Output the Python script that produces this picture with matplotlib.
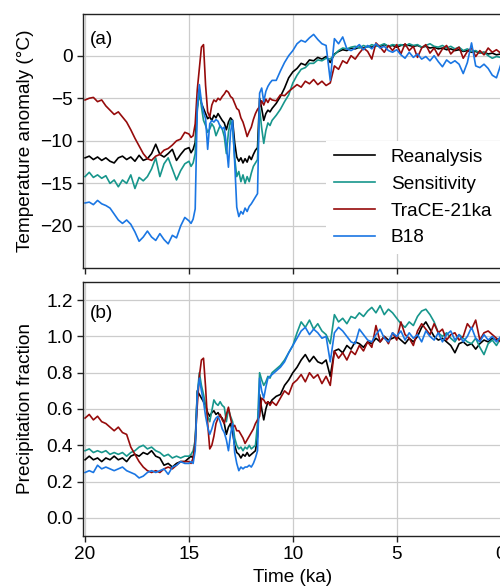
"""Temperatuur- en neerslagreconstructie, twee panelen (a) en (b)."""
# ================================================
# IMPORTS
# ================================================
import numpy as np
import matplotlib
matplotlib.use("Agg")
import matplotlib.pyplot as plt

# ================================================
# DATA
# ================================================
# tijd in ka: 20.0-15.2 stap 0.2, 15.0-11.0 stap 0.1, 10.8-0.0 stap 0.2
tijd = np.concatenate([np.linspace(20.0, 15.2, 25),
                       np.linspace(15.0, 11.0, 41),
                       np.linspace(10.8, 0.0, 55)])

labels = ["Reanalysis", "Sensitivity", "TraCE-21ka", "B18"]
kleuren = ["#000000", "#17968c", "#960b0b", "#1a76e3"]

temp_reanalysis = [
    -12.0, -11.8, -12.2, -11.9, -12.3,
    -12.0, -12.4, -12.6, -12.0, -11.8,
    -12.2, -11.9, -12.4, -11.7, -12.3,
    -12.1, -11.5, -10.4, -11.6, -11.9,
    -11.5, -11.0, -12.3, -11.6, -11.0,
    -10.8, -11.4, -11.0, -10.2, -6.0, -4.4, -5.6, -6.2, -6.8, -7.4,
    -7.2, -7.6, -7.0, -7.3, -6.8, -7.2, -7.6, -7.9, -8.7, -7.8,
    -7.3, -7.6, -10.2, -11.9, -12.4, -12.0, -12.6, -12.1, -12.5, -11.8,
    -12.2, -11.6, -11.1, -10.8, -5.0, -6.2, -7.6, -6.8, -6.4, -6.6,
    -6.2,
    -5.6, -4.8, -3.8, -2.6,
    -1.9, -1.5, -0.9, -1.1, -0.5,
    -0.6, -0.2, -0.4, -0.1, -0.8,
    0.2, 0.5, 0.7, 0.6, 0.9,
    0.8, 1.0, 0.9, 1.1, 1.0,
    1.2, 1.1, 1.3, 1.1, 1.2,
    1.0, 1.2, 1.3, 1.2, 1.1,
    1.2, 1.0, 1.1, 0.9, 1.0,
    0.8, 0.9, 0.7, 0.8, 0.6,
    0.7, 0.5, 0.6, 0.4, 0.5,
    0.3, 0.4, 0.2, 0.3, 0.1,
    0.2,
]

temp_sensitivity = [
    -14.2, -13.7, -14.3, -14.0, -14.4,
    -14.1, -15.0, -14.6, -15.4, -14.6,
    -15.0, -14.0, -15.6, -14.3, -14.7,
    -14.2, -13.3, -12.0, -14.2, -12.7,
    -12.0, -13.3, -14.6, -13.5, -12.7,
    -12.4, -13.0, -12.6, -11.5, -6.5, -4.0, -6.0, -7.6, -8.2, -9.0,
    -8.6, -8.0, -8.4, -9.4, -8.8, -8.2, -8.6, -9.5, -11.5, -9.0,
    -7.6, -8.5, -12.0, -14.2, -13.6, -14.8, -14.0, -15.0, -14.2, -14.8,
    -13.8, -13.0, -12.6, -12.2, -6.2, -8.5, -10.3, -8.8, -7.9, -8.2,
    -7.6,
    -7.0, -6.3, -5.4, -4.6,
    -3.2, -2.3, -1.6, -1.4, -0.9,
    -0.9, -0.5, -0.6, -0.3, -0.4,
    0.1, 0.6, 0.9, 0.8, 1.0,
    1.1, 0.9, 1.2, 1.0, 1.3,
    1.1, 1.2, 1.4, 1.1, 1.3,
    1.2, 1.3, 1.1, 1.4, 1.2,
    1.3, 1.0, 1.2, 1.4, 1.1,
    1.0, 1.2, 0.9, 1.1, 0.8,
    1.0, 0.6, 0.8, 0.5, 0.6,
    0.3, 0.4, 0.0, -0.3, -0.1,
    -0.2,
]

temp_trace = [
    -5.2, -5.0, -4.9, -5.4, -5.2,
    -5.9, -6.4, -6.9, -6.6, -7.2,
    -7.8, -8.7, -9.7, -10.6, -11.5,
    -12.1, -12.3, -11.8, -11.6, -11.1,
    -10.9, -10.5, -10.0, -9.8, -9.0,
    -9.2, -9.6, -9.4, -8.0, -4.0, -1.5, 1.0, 1.3, -3.5, -6.6,
    -7.2, -5.8, -5.2, -5.4, -5.0, -5.2, -4.8, -4.5, -4.1, -4.3,
    -4.8, -5.0, -5.6, -6.2, -6.4, -7.3, -7.8, -8.6, -9.5, -8.9,
    -8.4, -7.5, -6.8, -6.3, -6.0, -5.3, -5.8, -5.1, -5.5, -5.0,
    -5.2,
    -5.3, -4.6, -4.7, -4.2,
    -3.8, -3.4, -3.7, -3.0, -3.3,
    -2.8, -3.4, -3.0, -3.5, -3.2,
    -1.2, -1.6, -0.6, -0.9, 0.0,
    -0.4, 0.3, 0.9, 0.5, -0.4,
    1.5, 1.0, 0.4, 1.2, 0.6,
    1.3, 0.2, 1.4, 0.6, 1.1,
    -0.2, 0.9, 1.3, 0.3, 0.9,
    0.0, 0.8, 1.2, 0.2, 0.7,
    1.0, -0.3, 0.5, 0.9, -0.1,
    0.6, 0.1, 0.9, 0.4, 0.7,
    0.3,
]

temp_b18 = [
    -17.3, -17.2, -17.5, -17.0, -17.4,
    -17.6, -17.9, -18.6, -19.3, -19.7,
    -19.3, -19.8, -20.7, -21.8, -21.3,
    -20.6, -21.3, -21.7, -20.9, -21.6,
    -22.1, -21.1, -21.4, -20.0, -19.0,
    -19.4, -19.7, -19.2, -18.0, -6.0, -3.4, -5.4, -6.6, -7.4, -11.0,
    -8.0, -7.6, -7.8, -7.5, -7.7, -8.3, -8.6, -8.4, -10.5, -13.1,
    -9.0, -7.6, -12.5, -17.8, -18.9, -18.3, -18.6, -17.9, -18.3, -17.7,
    -17.4, -17.0, -16.6, -16.2, -4.4, -3.8, -5.4, -4.2, -3.6, -3.2,
    -2.9,
    -2.9, -1.8, -0.8, 0.0,
    0.6, 1.4, 1.8, 1.6, 2.1,
    2.5, 1.9, 1.4, 1.2, -2.9,
    2.0, 1.4, 2.2, 0.8, 0.6,
    0.9, 1.3, 0.7, 1.2, 0.8,
    1.4, 0.9, 1.1, 0.6, 0.4,
    0.7, 0.1, -0.3, 0.4, -0.2,
    0.2, -0.4, -0.1, -0.6, 0.0,
    -0.7, -1.3, -0.5, -0.9, -0.6,
    -1.0, -2.1, -0.8, 1.5, -1.2,
    -1.4, -1.0, -1.5, -2.3, -2.6,
    -1.1,
]

prec_reanalysis = [
    0.32, 0.34, 0.32, 0.33, 0.31,
    0.33, 0.32, 0.34, 0.32, 0.33,
    0.31, 0.34, 0.35, 0.34, 0.36,
    0.35, 0.37, 0.34, 0.33, 0.29,
    0.30, 0.28, 0.30, 0.31, 0.31,
    0.33, 0.34, 0.33, 0.40, 0.70, 0.68, 0.66, 0.64, 0.62, 0.58,
    0.56, 0.58, 0.59, 0.57, 0.58, 0.56, 0.55, 0.52, 0.46, 0.50,
    0.52, 0.47, 0.40, 0.36, 0.35, 0.33, 0.35, 0.34, 0.36, 0.34,
    0.35, 0.36, 0.37, 0.45, 0.68, 0.60, 0.54, 0.60, 0.64, 0.63,
    0.65,
    0.67, 0.68, 0.73, 0.76,
    0.80, 0.83, 0.87, 0.90, 0.86,
    0.89, 0.86, 0.85, 0.87, 0.78,
    0.92, 0.93, 0.91, 0.95, 0.93,
    0.97, 0.96, 0.94, 0.97, 0.96,
    0.99, 0.97, 1.00, 0.98, 0.99,
    1.00, 0.98, 0.96, 0.99, 0.97,
    1.00, 1.05, 1.08, 1.04, 1.00,
    0.98, 0.99, 0.97, 0.95, 0.91,
    0.96, 0.97, 0.95, 0.96, 0.93,
    0.96, 0.98, 0.97, 0.99, 0.98,
    0.99,
]

prec_sensitivity = [
    0.37, 0.38, 0.36, 0.37, 0.36,
    0.37, 0.35, 0.36, 0.35, 0.36,
    0.34, 0.36, 0.37, 0.39, 0.40,
    0.38, 0.39, 0.37, 0.36, 0.34,
    0.35, 0.33, 0.34, 0.33, 0.34,
    0.34, 0.35, 0.37, 0.43, 0.68, 0.80, 0.73, 0.68, 0.62, 0.56,
    0.53, 0.59, 0.65, 0.63, 0.62, 0.64, 0.62, 0.61, 0.53, 0.60,
    0.56, 0.53, 0.44, 0.40, 0.38, 0.39, 0.37, 0.39, 0.38, 0.40,
    0.38, 0.39, 0.40, 0.52, 0.80, 0.76, 0.73, 0.75, 0.78, 0.77,
    0.80,
    0.82, 0.84, 0.87, 0.91,
    0.95, 1.02, 1.08, 1.05, 1.09,
    1.04, 1.07, 1.03, 1.01, 0.96,
    1.12, 1.08, 1.10, 1.07, 1.11,
    1.10, 1.13, 1.11, 1.14, 1.16,
    1.13, 1.17, 1.12, 1.15, 1.13,
    1.10, 1.07, 1.05, 1.08, 1.06,
    1.11, 1.14, 1.15, 1.12, 1.08,
    1.02, 1.00, 1.02, 0.99, 0.97,
    1.01, 0.99, 0.97, 0.96, 0.99,
    0.94, 0.90, 0.96, 0.98, 0.95,
    0.99,
]

prec_trace = [
    0.55, 0.57, 0.54, 0.56, 0.53,
    0.52, 0.50, 0.48, 0.50, 0.47,
    0.46, 0.39, 0.35, 0.31, 0.28,
    0.26, 0.25, 0.26, 0.25, 0.27,
    0.28, 0.27, 0.29, 0.31, 0.31,
    0.31, 0.30, 0.33, 0.42, 0.62, 0.78, 0.87, 0.88, 0.72, 0.52,
    0.38, 0.40, 0.45, 0.52, 0.55, 0.57, 0.54, 0.52, 0.57, 0.61,
    0.55, 0.50, 0.51, 0.48, 0.48, 0.46, 0.44, 0.41, 0.43, 0.45,
    0.47, 0.49, 0.52, 0.54, 0.56, 0.66, 0.65, 0.63, 0.64, 0.62,
    0.64,
    0.62, 0.66, 0.70, 0.68,
    0.74, 0.76, 0.79, 0.75, 0.80,
    0.77, 0.79, 0.74, 0.78, 0.73,
    0.92, 0.88, 0.91, 0.87, 0.92,
    0.90, 0.95, 0.92, 0.97, 0.94,
    1.06, 0.97, 1.00, 0.96, 1.02,
    0.98, 1.08, 1.01, 0.99, 0.95,
    1.03, 1.07, 1.04, 1.01, 1.07,
    1.02, 1.04, 0.98, 1.01, 1.02,
    0.98, 1.00, 1.07, 1.04, 1.09,
    0.98, 1.02, 1.03, 1.01, 0.99,
    0.97,
]

prec_b18 = [
    0.25, 0.26, 0.25, 0.29, 0.27,
    0.28, 0.27, 0.26, 0.27, 0.28,
    0.26, 0.25, 0.24, 0.22, 0.23,
    0.25, 0.26, 0.25, 0.26, 0.27,
    0.24, 0.28, 0.29, 0.31, 0.30,
    0.30, 0.31, 0.30, 0.37, 0.68, 0.77, 0.70, 0.64, 0.56, 0.50,
    0.46, 0.49, 0.53, 0.55, 0.56, 0.53, 0.49, 0.47, 0.43, 0.37,
    0.46, 0.52, 0.36, 0.30, 0.26, 0.28, 0.27, 0.28, 0.28, 0.29,
    0.28, 0.30, 0.33, 0.37, 0.77, 0.70, 0.66, 0.72, 0.77, 0.78,
    0.79,
    0.81, 0.83, 0.86, 0.91,
    0.95, 0.99, 1.03, 1.05, 1.01,
    1.04, 1.02, 0.99, 1.00, 0.86,
    1.02, 1.05, 1.03, 1.00, 0.97,
    0.96, 1.04, 1.01, 0.98, 0.97,
    1.01, 1.04, 0.99, 0.97, 1.02,
    1.00, 1.03, 0.98, 1.02, 0.99,
    1.01, 0.97, 1.03, 1.00, 0.98,
    1.02, 0.97, 1.01, 1.03, 0.98,
    1.01, 0.97, 1.00, 1.05, 0.99,
    0.97, 1.01, 0.98, 1.00, 0.97,
    1.00,
]

temp_ticks = [-20, -15, -10, -5, 0]
prec_ticks = [0.0, 0.2, 0.4, 0.6, 0.8, 1.0, 1.2]
tijd_ticks = [20, 15, 10, 5, 0]


# ================================================
# HULPFUNCTIES
# ================================================
def opmaak_as(ax):
    """Gemeenschappelijke opmaak voor beide panelen."""
    ax.set_xlim(20.1, -0.1)
    ax.set_xticks(tijd_ticks)
    ax.grid(True, color="#cccccc", linewidth=0.9)
    ax.set_axisbelow(True)
    for spine in ax.spines.values():
        spine.set_linewidth(1.0)
        spine.set_color("#222222")
    ax.tick_params(direction="out", length=4, width=1.0, color="#222222")
    ax.yaxis.set_label_coords(-0.117, 0.5)


def main():
    plt.rcParams["font.family"] = ["Liberation Sans", "DejaVu Sans"]
    plt.rcParams["font.size"] = 13.7

    fig = plt.figure(figsize=(5.0, 5.87), dpi=100)
    ax_a = fig.add_axes([0.166, 0.544, 0.8394, 0.4322])
    ax_b = fig.add_axes([0.166, 0.0869, 0.8394, 0.4327])

    temps = [temp_reanalysis, temp_sensitivity, temp_trace, temp_b18]
    precs = [prec_reanalysis, prec_sensitivity, prec_trace, prec_b18]

    for serie, kleur, naam in zip(temps, kleuren, labels):
        ax_a.plot(tijd, serie, color=kleur, linewidth=1.2, label=naam)
    for serie, kleur in zip(precs, kleuren):
        ax_b.plot(tijd, serie, color=kleur, linewidth=1.2)

    # paneel (a)
    opmaak_as(ax_a)
    ax_a.set_ylim(-24.9, 4.9)
    ax_a.set_yticks(temp_ticks)
    ax_a.tick_params(labelbottom=False)
    ax_a.set_ylabel("Temperature anomaly (°C)")
    ax_a.text(0.017, 0.934, "(a)", transform=ax_a.transAxes, va="top", ha="left")
    ax_a.legend(loc="upper left", bbox_to_anchor=(0.579, 0.4994), borderaxespad=0,
                frameon=True, fancybox=False, edgecolor="none", framealpha=1,
                handlelength=2.2)

    # paneel (b)
    opmaak_as(ax_b)
    ax_b.set_ylim(-0.1, 1.3)
    ax_b.set_yticks(prec_ticks)
    ax_b.set_yticklabels([f"{v:.1f}" for v in prec_ticks])
    ax_b.set_ylabel("Precipitation fraction")
    ax_b.set_xlabel("Time (ka)")
    ax_b.text(0.017, 0.909, "(b)", transform=ax_b.transAxes, va="top", ha="left")

    fig.savefig("out.png", dpi=100)


# ================================================
# ENTRY POINT
# ================================================
if __name__ == "__main__":
    main()
